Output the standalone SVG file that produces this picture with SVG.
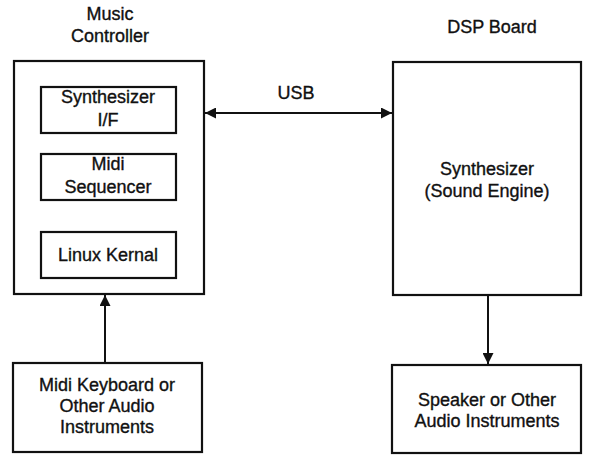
<svg xmlns="http://www.w3.org/2000/svg" width="589" height="455" viewBox="0 0 589 455">
<defs>
<marker id="ah" viewBox="0 0 10 10" refX="10" refY="5" markerWidth="11" markerHeight="11" markerUnits="userSpaceOnUse" orient="auto-start-reverse">
<path d="M0,0 L10,5 L0,10 z" fill="#111"/>
</marker>
<style>
.box{fill:none;stroke:#111;stroke-width:2.2}
.t{font-family:"Liberation Sans",Arial,sans-serif;font-size:18px;fill:#111;stroke:#111;stroke-width:0.35;text-anchor:middle}
.c{stroke:#111;stroke-width:2;fill:none}
</style>
</defs>
<rect width="589" height="455" fill="#fff"/>
<g id="music-controller">
<text class="t" x="110" y="20">Music</text>
<text class="t" x="110" y="42">Controller</text>
<rect class="box" x="14" y="61" width="190" height="233"/>
</g>
<g id="synth-if">
<rect class="box" x="41" y="87" width="135" height="46"/>
<text class="t" x="108" y="103">Synthesizer</text>
<text class="t" x="108" y="126">I/F</text>
</g>
<g id="midi-sequencer">
<rect class="box" x="41" y="154" width="135" height="46"/>
<text class="t" x="108" y="170">Midi</text>
<text class="t" x="108" y="193">Sequencer</text>
</g>
<g id="linux-kernal">
<rect class="box" x="41" y="232" width="135" height="46"/>
<text class="t" x="108" y="261">Linux Kernal</text>
</g>
<g id="dsp-board">
<text class="t" x="492" y="33">DSP Board</text>
<rect class="box" x="393" y="62" width="188" height="233"/>
<text class="t" x="487" y="175">Synthesizer</text>
<text class="t" x="487" y="197">(Sound Engine)</text>
</g>
<g id="midi-keyboard">
<rect class="box" x="13" y="363" width="189" height="89"/>
<text class="t" x="107" y="391">Midi Keyboard or</text>
<text class="t" x="107" y="412">Other Audio</text>
<text class="t" x="107" y="433">Instruments</text>
</g>
<g id="speaker">
<rect class="box" x="392" y="365" width="189" height="88"/>
<text class="t" x="487" y="406">Speaker or Other</text>
<text class="t" x="487" y="427">Audio Instruments</text>
</g>
<g id="connectors">
<line class="c" x1="205" y1="113" x2="392" y2="113" marker-start="url(#ah)" marker-end="url(#ah)"/>
<text class="t" x="296" y="99">USB</text>
<line class="c" x1="105" y1="363" x2="105" y2="295" marker-end="url(#ah)"/>
<line class="c" x1="488" y1="295" x2="488" y2="364" marker-end="url(#ah)"/>
</g>
</svg>
